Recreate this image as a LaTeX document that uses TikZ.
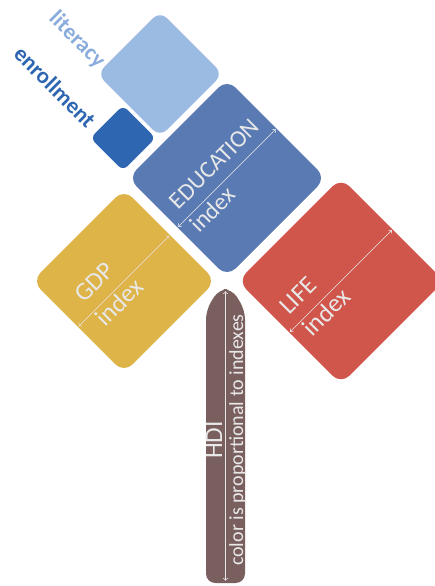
\documentclass[tikz,border=0pt]{standalone}
\usepackage{fontspec}
\setmainfont{Carlito}
\usetikzlibrary{positioning, calc}
\usetikzlibrary{arrows}

\definecolor{litblue}{HTML}{9BBBE3}
\definecolor{litword}{HTML}{8AACDC}
\definecolor{enrblue}{HTML}{2E66B1}
\definecolor{edublue}{HTML}{5A7AB3}
\definecolor{gdpyellow}{HTML}{DEB347}
\definecolor{lifered}{HTML}{D0554A}
\definecolor{hdibrown}{HTML}{7A5F5F}
\definecolor{lblgray}{HTML}{E8E8E8}

\tikzset{
  tile/.style={rectangle, rotate=45, inner sep=0pt, minimum size=#1},
  lbl/.style={text=lblgray, inner sep=0pt, font=\fontsize{18}{21}\selectfont},
  biglbl/.style={lbl, font=\fontsize{19}{22}\selectfont},
  dim/.style={<->, draw=lblgray, line width=0.5pt, shorten <=1pt, shorten >=1pt},
}

\begin{document}
\begin{tikzpicture}[x=0.75pt,y=0.75pt]
\useasboundingbox (0,0) rectangle (435,-586);
\clip (0,0) rectangle (435,-586);

% tiles
\node[tile=66.75pt, fill=litblue, rounded corners=7.5pt] (lit) at (160,-74) {};
\node[tile=34.5pt, fill=enrblue, rounded corners=4.5pt] (enr) at (123,-138) {};
\node[tile=105pt, fill=edublue, rounded corners=9pt] (edu) at (227,-178) {};
\node[tile=97.5pt, fill=gdpyellow, rounded corners=9pt] (gdp) at (124,-281) {};
\node[tile=109.5pt, fill=lifered, rounded corners=9pt] (life) at (341,-281) {};

\node[text=litword, rotate=-45, font=\fontsize{17}{20}\selectfont\bfseries] (litword) at (77,-40) {literacy};
\node[text=enrblue, rotate=-45, font=\fontsize{17}{20}\selectfont\bfseries] (enrword) at (55,-87) {enrollment};

% index arrows and names
\draw[dim] (edu.west) -- (edu.east);
\begin{scope}[shift={(edu.west)}, rotate=45, transform shape]
  \node[lbl, anchor=base west] (eduname) at (13,11) {EDUCATION};
  \node[lbl, anchor=base west] (eduidx) at (11,-20) {index};
\end{scope}

\draw[dim] (gdp.west) -- (gdp.east);
\begin{scope}[shift={(gdp.west)}, rotate=45, transform shape]
  \node[biglbl, anchor=base west] (gdpname) at (21,12) {GDP};
  \node[biglbl, anchor=base west] (gdpidx) at (19,-20) {index};
\end{scope}

\draw[dim] (life.west) -- (life.east);
\begin{scope}[shift={(life.west)}, rotate=45, transform shape]
  \node[biglbl, anchor=base west] (lifename) at (12,12) {LIFE};
  \node[biglbl, anchor=base west] (lifeidx) at (13,-20) {index};
\end{scope}

% HDI bar
\fill[hdibrown, rounded corners=7pt] (206,-450) -- (206,-310) -- (219,-289) -- (232,-289)
  -- (245,-310) -- (245,-583) -- (206,-583) -- cycle;
\coordinate (hditop) at (225.5,-290);
\coordinate (hdibot) at (225.5,-582);
\draw[dim] (hdibot) -- (hditop);
\node[biglbl, rotate=90, anchor=base] (hdi) at (222,-440) {HDI};
\node[lbl, rotate=90, anchor=base, font=\fontsize{15}{18}\selectfont] (hdinote) at (243,-440) {color is proportional to indexes};
\end{tikzpicture}
\end{document}
